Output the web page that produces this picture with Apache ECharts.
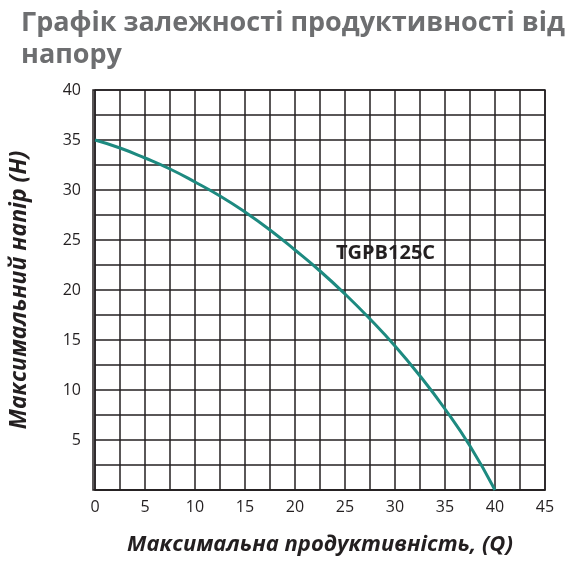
<!DOCTYPE html><html><head><meta charset="utf-8"><script src="https://cdn.jsdelivr.net/npm/echarts@6/dist/echarts.min.js"></script></head><body style="margin:0"><div id="c" style="width:568px;height:570px"></div><script>
const flow=[0,2.5,5,7.5,10,12.5,15,17.5,20,22.5,25,27.5,30,32.5,35,37.5,40];
const head=[35,34.2,33.2,32.1,30.8,29.4,27.8,26.0,24.0,21.9,19.6,17.1,14.4,11.4,8.1,4.4,0];
const seriesName='TGPB125C';
const c=echarts.init(document.getElementById('c'));
c.setOption({
title:{text:'Графік залежності продуктивності від\nнапору',left:16,top:2,textStyle:{fontFamily:'Open Sans',fontWeight:'bold',fontSize:27,color:'#6d6e70',lineHeight:32}},
grid:{left:93,right:23,top:90,bottom:80},
xAxis:{type:'value',min:0,max:45,interval:2.5,name:'Максимальна продуктивність, (Q)',nameLocation:'middle',nameGap:44,nameTextStyle:{fontFamily:'Open Sans',fontStyle:'italic',fontWeight:'bold',fontSize:22,color:'#231f20'},
axisLine:{lineStyle:{color:'#231f20',width:1.5}},axisTick:{show:false},axisLabel:{color:'#231f20',fontSize:16,fontFamily:'Open Sans',margin:9,formatter:v=>v%5===0?String(v):''},splitLine:{lineStyle:{color:'#231f20',width:1.5}}},
yAxis:{type:'value',min:0,max:40,interval:2.5,name:'Максимальний напір (H)',nameLocation:'middle',nameGap:64,nameTextStyle:{fontFamily:'Open Sans',fontStyle:'italic',fontWeight:'bold',fontSize:23,color:'#231f20'},
axisLine:{show:true,lineStyle:{color:'#231f20',width:1.5}},axisTick:{show:false},axisLabel:{color:'#231f20',fontSize:16,fontFamily:'Open Sans',margin:14,formatter:v=>(v%5===0&&v>0)?String(v):''},splitLine:{lineStyle:{color:'#231f20',width:1.5}}},
series:[{type:'line',name:seriesName,data:flow.map((f,i)=>[f,head[i]]),smooth:true,showSymbol:false,lineStyle:{color:'#1d8a80',width:3}}],
graphic:[{type:'text',left:336,top:243,style:{text:seriesName,font:'bold 20px "Open Sans"',fill:'#231f20'}},
{type:'rect',shape:{x:93,y:90,width:452,height:400},style:{fill:'none',stroke:'#231f20',lineWidth:1.5}}]
});
</script></body></html>
